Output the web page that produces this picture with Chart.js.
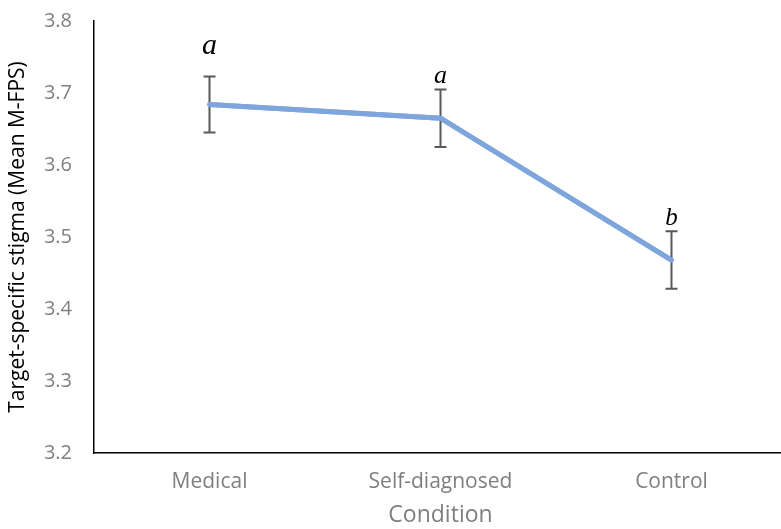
<!DOCTYPE html>
<html><head><meta charset="utf-8">
<script src="https://cdn.jsdelivr.net/npm/chart.js@4"></script>
<style>html,body{margin:0;padding:0;background:#fff;overflow:hidden}#wrap{width:790px;height:529px}</style>
</head><body>
<div id="wrap"><canvas id="c" width="790" height="529"></canvas></div>
<script>
const categories = ['Medical', 'Self-diagnosed', 'Control'];
const means = [3.684, 3.665, 3.468];
const errors = [0.039, 0.040, 0.040];
const sigLetters = ['a', 'a', 'b'];
const letterSizes = [30, 26, 25];
const yTicks = [3.2, 3.3, 3.4, 3.5, 3.6, 3.7, 3.8];

const errPlugin = {
  id: 'errbars',
  afterDatasetsDraw(chart) {
    const ctx = chart.ctx, x = chart.scales.x, y = chart.scales.y;
    ctx.save();
    ctx.strokeStyle = '#595959';
    ctx.lineWidth = 2;
    means.forEach((m, i) => {
      const px = x.getPixelForValue(i);
      const t = y.getPixelForValue(m + errors[i]);
      const b = y.getPixelForValue(m - errors[i]);
      ctx.beginPath();
      ctx.moveTo(px, t); ctx.lineTo(px, b);
      ctx.moveTo(px - 6, t); ctx.lineTo(px + 6, t);
      ctx.moveTo(px - 6, b); ctx.lineTo(px + 6, b);
      ctx.stroke();
    });
    const meta = chart.getDatasetMeta(0);
    ctx.strokeStyle = '#7EA6DC';
    ctx.lineWidth = 5;
    ctx.lineCap = 'round';
    ctx.lineJoin = 'round';
    ctx.beginPath();
    meta.data.forEach((p, i) => { if (i === 0) ctx.moveTo(p.x, p.y); else ctx.lineTo(p.x, p.y); });
    ctx.stroke();
    ctx.fillStyle = '#000';
    ctx.textAlign = 'center';
    ctx.textBaseline = 'alphabetic';
    means.forEach((m, i) => {
      const px = x.getPixelForValue(i);
      const t = y.getPixelForValue(m + errors[i]);
      ctx.font = 'italic ' + letterSizes[i] + 'px "Liberation Serif", "DejaVu Serif", serif';
      ctx.fillText(sigLetters[i], px, t - (i === 0 ? 22 : 6));
    });
    ctx.restore();
  }
};

const F = '"Open Sans", Lato, sans-serif';
new Chart(document.getElementById('c'), {
  type: 'line',
  data: {
    labels: categories,
    datasets: [{
      data: means,
      borderColor: '#7EA6DC',
      borderWidth: 5,
      pointRadius: 0,
      tension: 0
    }]
  },
  options: {
    responsive: false,
    animation: false,
    layout: { padding: { top: 21, right: 3, left: 0, bottom: 0 } },
    plugins: { legend: { display: false }, tooltip: { enabled: false } },
    scales: {
      x: {
        type: 'category',
        offset: true,
        grid: { display: false, drawTicks: false },
        border: { display: true, color: '#000', width: 1.5 },
        ticks: { color: '#7f7f7f', font: { family: F, size: 21 }, padding: 16 },
        title: { display: true, text: 'Condition', color: '#7f7f7f', font: { family: F, size: 23 }, padding: { top: 0, bottom: 0 } },
        afterFit(s) { s.height = 76; s.paddingLeft = 0; s.paddingRight = 0; }
      },
      y: {
        min: 3.2, max: 3.8,
        afterBuildTicks(s) { s.ticks = yTicks.map(v => ({ value: v })); },
        grid: { display: false, drawTicks: false },
        border: { display: true, color: '#000', width: 1.5 },
        ticks: { color: '#7f7f7f', font: { family: F, size: 20 }, padding: 22,
          callback: v => v.toFixed(1) },
        title: { display: true, text: 'Target-specific stigma (Mean M-FPS)', color: '#000', font: { family: F, size: 21 }, padding: { top: 5, bottom: 0 } },
        afterFit(s) { s.width = 94; s.paddingTop = 0; s.paddingBottom = 0; }
      }
    }
  },
  plugins: [errPlugin]
});
</script>
</body></html>
